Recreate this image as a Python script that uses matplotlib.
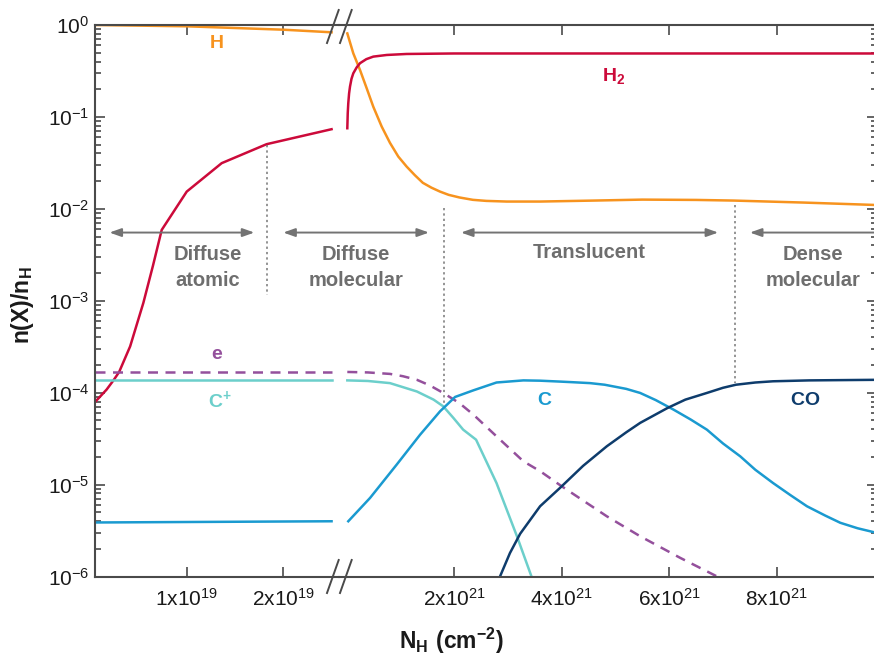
import matplotlib
matplotlib.use("Agg")
import matplotlib.pyplot as plt
from matplotlib.lines import Line2D
from matplotlib.ticker import LogLocator, NullFormatter

plt.rcParams['font.family'] = ['Liberation Sans', 'DejaVu Sans']
plt.rcParams['mathtext.fontset'] = 'custom'
plt.rcParams['mathtext.rm'] = 'Liberation Sans'
plt.rcParams['mathtext.bf'] = 'Liberation Sans:bold'

# ---------------- data (left panel: N in 1e19 cm^-2, right panel: N in 1e21 cm^-2)
H_left_N = [0.05, 1.0, 2.0, 2.5]
H_left = [1.0, 0.968, 0.889, 0.833]
H_right_N = [0.017, 0.128, 0.253, 0.377, 0.50, 0.656, 0.81, 0.965, 1.12, 1.27, 1.42, 1.58,
             1.74, 1.9, 2.1, 2.35, 2.6, 2.98, 3.60, 4.6, 5.5, 6.5, 7.2, 8.5, 9.86]
H_right = [0.81, 0.492, 0.324, 0.205, 0.129, 0.0785, 0.0522, 0.037, 0.0288, 0.0233, 0.0192,
           0.0170, 0.0154, 0.0142, 0.0133, 0.01253, 0.0122, 0.0120, 0.0120, 0.0123, 0.0126,
           0.0125, 0.0123, 0.0117, 0.0110]

H2_left_N = [0.05, 0.17, 0.241, 0.30, 0.414, 0.551, 0.65, 0.741, 1.0, 1.362, 1.827, 2.5]
H2_left = [7.9e-5, 1.08e-4, 1.36e-4, 1.68e-4, 3.19e-4, 9.5e-4, 2.4e-3, 5.9e-3, 0.0154,
           0.0314, 0.0505, 0.0735]
H2_right_N = [0.017, 0.025, 0.035, 0.05, 0.067, 0.095, 0.128, 0.19, 0.253, 0.37, 0.50,
              0.75, 1.12, 2.0, 3.6, 6.0, 9.86]
H2_right = [0.0753, 0.11, 0.141, 0.18, 0.214, 0.26, 0.298, 0.345, 0.384, 0.425, 0.453,
            0.472, 0.484, 0.49, 0.49, 0.49, 0.49]

e_left_N = [0.05, 2.5]
e_left = [1.68e-4, 1.68e-4]
e_right_N = [0.017, 0.4, 0.81, 1.05, 1.31, 1.55, 1.80, 2.1, 2.36, 2.79, 3.29, 3.60, 4.00,
             4.84, 5.46, 6.20, 6.89]
e_right = [1.68e-4, 1.66e-4, 1.60e-4, 1.51e-4, 1.38e-4, 1.2e-4, 9.93e-5, 7.7e-5, 5.77e-5,
           3.35e-5, 1.79e-5, 1.40e-5, 9.6e-6, 4.52e-6, 2.74e-6, 1.6e-6, 1.0e-6]

Cp_left_N = [0.05, 2.5]
Cp_left = [1.36e-4, 1.36e-4]
Cp_right_N = [0.017, 0.4, 0.81, 1.31, 1.62, 1.80, 1.99, 2.17, 2.41, 2.79, 3.17, 3.44]
Cp_right = [1.36e-4, 1.34e-4, 1.27e-4, 1.03e-4, 8.4e-5, 7.1e-5, 5.3e-5, 3.96e-5, 3.08e-5,
            1.04e-5, 2.74e-6, 1.0e-6]

C_left_N = [0.05, 2.5]
C_left = [3.87e-6, 3.99e-6]
C_right_N = [0.035, 0.44, 0.935, 1.37, 1.74, 2.02, 2.36, 2.79, 3.29, 3.60, 3.97, 4.2, 4.53,
             4.8, 5.2, 5.46, 5.75, 6.08, 6.4, 6.70, 7.0, 7.32, 7.6, 7.93, 8.25, 8.56, 8.9,
             9.18, 9.5, 9.86]
C_right = [3.99e-6, 7.16e-6, 1.65e-5, 3.49e-5, 6.26e-5, 8.98e-5, 1.06e-4, 1.29e-4, 1.36e-4,
           1.35e-4, 1.32e-4, 1.30e-4, 1.27e-4, 1.22e-4, 1.1e-4, 9.93e-5, 8.3e-5, 6.54e-5,
           5.1e-5, 3.96e-5, 2.8e-5, 2.03e-5, 1.45e-5, 1.04e-5, 7.7e-6, 5.81e-6, 4.6e-6,
           3.84e-6, 3.35e-6, 2.98e-6]

CO_right_N = [2.855, 3.04, 3.23, 3.60, 3.97, 4.4, 4.84, 5.2, 5.46, 5.97, 6.3, 6.70, 7.0,
              7.24, 7.6, 7.93, 8.6, 9.86]
CO_right = [1e-6, 1.8e-6, 2.92e-6, 5.81e-6, 9.2e-6, 1.6e-5, 2.61e-5, 3.7e-5, 4.69e-5,
            6.82e-5, 8.4e-5, 9.93e-5, 1.13e-4, 1.22e-4, 1.29e-4, 1.33e-4, 1.36e-4, 1.38e-4]

y_ticks = [1e-6, 1e-5, 1e-4, 1e-3, 1e-2, 1e-1, 1e0]
y_ticklabels = [r'$\mathregular{10^{-6}}$', r'$\mathregular{10^{-5}}$', r'$\mathregular{10^{-4}}$',
                r'$\mathregular{10^{-3}}$', r'$\mathregular{10^{-2}}$', r'$\mathregular{10^{-1}}$',
                r'$\mathregular{10^{0}}$']
xl_ticks = [1e19, 2e19]
xl_ticklabels = [r'$\mathregular{1x10^{19}}$', r'$\mathregular{2x10^{19}}$']
xr_ticks = [2e21, 4e21, 6e21, 8e21]
xr_ticklabels = [r'$\mathregular{2x10^{21}}$', r'$\mathregular{4x10^{21}}$',
                 r'$\mathregular{6x10^{21}}$', r'$\mathregular{8x10^{21}}$']

regions = ['Diffuse\natomic', 'Diffuse\nmolecular', 'Translucent', 'Dense\nmolecular']

# ---------------- style
c_H = '#F7931E'
c_H2 = '#CC0A3A'
c_e = '#94509C'
c_Cp = '#6CCFCB'
c_C = '#1A9AD0'
c_CO = '#0E3C6C'
c_gray = '#6E6E6E'
c_axis = '#4A4A4A'
lw = 1.8

W, Hh = 874, 662
fig = plt.figure(figsize=(W / 100, Hh / 100), dpi=100)
x0, xb, x1 = 95, 339, 877
ytop, ybot = 25, 576.5
bottom = 1 - ybot / Hh
height = (ybot - ytop) / Hh
ax1 = fig.add_axes([x0 / W, bottom, (xb - x0) / W, height])
ax2 = fig.add_axes([xb / W, bottom, (x1 - xb) / W, height])

s1, s2 = 1e19, 1e21
ax1.plot([v * s1 for v in H_left_N], H_left, color=c_H, lw=lw)
ax1.plot([v * s1 for v in H2_left_N], H2_left, color=c_H2, lw=lw)
ax1.plot([v * s1 for v in e_left_N], e_left, color=c_e, lw=lw, ls=(0, (4, 3)))
ax1.plot([v * s1 for v in Cp_left_N], Cp_left, color=c_Cp, lw=lw)
ax1.plot([v * s1 for v in C_left_N], C_left, color=c_C, lw=lw)

ax2.plot([v * s2 for v in H_right_N], H_right, color=c_H, lw=lw)
ax2.plot([v * s2 for v in H2_right_N], H2_right, color=c_H2, lw=lw)
ax2.plot([v * s2 for v in e_right_N], e_right, color=c_e, lw=lw, ls=(0, (4, 3)))
ax2.plot([v * s2 for v in Cp_right_N], Cp_right, color=c_Cp, lw=lw)
ax2.plot([v * s2 for v in C_right_N], C_right, color=c_C, lw=lw)
ax2.plot([v * s2 for v in CO_right_N], CO_right, color=c_CO, lw=lw)

for ax in (ax1, ax2):
    ax.set_yscale('log')
    ax.set_ylim(1e-6, 1.0)
    for sp in ax.spines.values():
        sp.set_color(c_axis)
        sp.set_linewidth(1.5)
    ax.tick_params(which='both', direction='in', color=c_axis, width=1.2,
                   labelsize=15, labelcolor='#1a1a1a')
    ax.tick_params(which='major', length=7)
    ax.tick_params(which='minor', length=4)
    ax.yaxis.set_minor_locator(LogLocator(base=10, subs=range(2, 10), numticks=20))
    ax.yaxis.set_minor_formatter(NullFormatter())
    ax.xaxis.set_minor_locator(plt.NullLocator())
    ax.set_facecolor('none')

ax1.set_xlim(0.05e19, 2.577e19)
ax2.set_xlim(-0.1375e21, 9.862e21)
ax1.spines['right'].set_visible(False)
ax2.spines['left'].set_visible(False)
ax1.set_yticks(y_ticks)
ax1.set_yticklabels(y_ticklabels)
ax1.tick_params(axis='y', which='both', left=True, right=False, pad=4)
ax1.tick_params(axis='x', top=True, bottom=True, pad=8)
ax2.set_yticks(y_ticks)
ax2.set_yticklabels([])
ax2.tick_params(axis='y', which='both', left=False, right=True, labelleft=False)
ax2.tick_params(axis='x', top=True, bottom=True, pad=8)
ax1.set_xticks(xl_ticks)
ax1.set_xticklabels(xl_ticklabels)
ax2.set_xticks(xr_ticks)
ax2.set_xticklabels(xr_ticklabels)


def fx(px):
    return px / W


def fy(py):
    return 1 - py / Hh


# break marks
for yc in (ytop + 1.5, ybot):
    for xs in (327, 340):
        fig.add_artist(Line2D([fx(xs), fx(xs + 11.7)], [fy(yc + 16.5), fy(yc - 16.5)],
                              color=c_axis, lw=1.4))

# dotted region separators
dkw = dict(color='#777777', lw=1.1, ls=(0, (1.5, 2)))
ax1.plot([1.834e19, 1.834e19], [0.05, 1.16e-3], **dkw)
ax2.plot([1.81e21, 1.81e21], [0.0103, 7.4e-5], **dkw)
ax2.plot([7.22e21, 7.22e21], [0.011, 1.27e-4], **dkw)

# region arrows
ya = 5.52e-3
arrow_kw = dict(arrowstyle='<|-|>,head_length=0.7,head_width=0.25', color='#737373', lw=1.4,
                shrinkA=0, shrinkB=0)
ax1.annotate('', xy=(0.2e19, ya), xytext=(1.70e19, ya), arrowprops=arrow_kw)
ax1.annotate('', xy=(2.0e19, ya), xycoords=ax1.transData,
             xytext=(1.535e21, ya), textcoords=ax2.transData, arrowprops=arrow_kw)
ax2.annotate('', xy=(2.13e21, ya), xytext=(6.91e21, ya), arrowprops=arrow_kw)
ax2.annotate('', xy=(7.50e21, ya), xytext=(10.3e21, ya), arrowprops=arrow_kw,
             annotation_clip=False)

yt = 2.3e-3
tkw = dict(color=c_gray, fontsize=14.5, fontweight='bold', ha='center', va='center',
           linespacing=1.45)
ax1.text(1.22e19, yt, regions[0], **tkw)
ax2.text(0.18e21, yt, regions[1], clip_on=False, **tkw)
ax2.text(4.52e21, 3.32e-3, regions[2], **tkw)
ax2.text(8.67e21, yt, regions[3], **tkw)

# species labels
skw = dict(fontsize=14, fontweight='bold', ha='center', va='center')
ax1.text(1.31e19, 0.632, r'$\mathregular{H}$', color=c_H, **skw)
ax1.text(1.31e19, 2.59e-4, r'$\mathregular{e}$', color=c_e, **skw)
ax1.text(1.345e19, 8.24e-5, r'$\mathregular{C^{+}}$', color=c_Cp, **skw)
ax2.text(4.97e21, 0.279, r'$\mathregular{H_{2}}$', color=c_H2, **skw)
ax2.text(3.69e21, 8.19e-5, r'$\mathregular{C}$', color=c_C, **skw)
ax2.text(8.52e21, 8.19e-5, r'$\mathregular{CO}$', color=c_CO, **skw)

# axis labels
fig.text(fx(451), fy(641), r'$\mathregular{N_{H}\ (cm^{-2})}$', fontsize=16.5,
         fontweight='bold', ha='center', va='center', color='#1a1a1a')
fig.text(fx(22), fy(305), r'$\mathregular{n(X)/n_{H}}$', fontsize=16.5, fontweight='bold',
         ha='center', va='center', rotation=90, color='#1a1a1a')

fig.savefig('out.png', dpi=100)
